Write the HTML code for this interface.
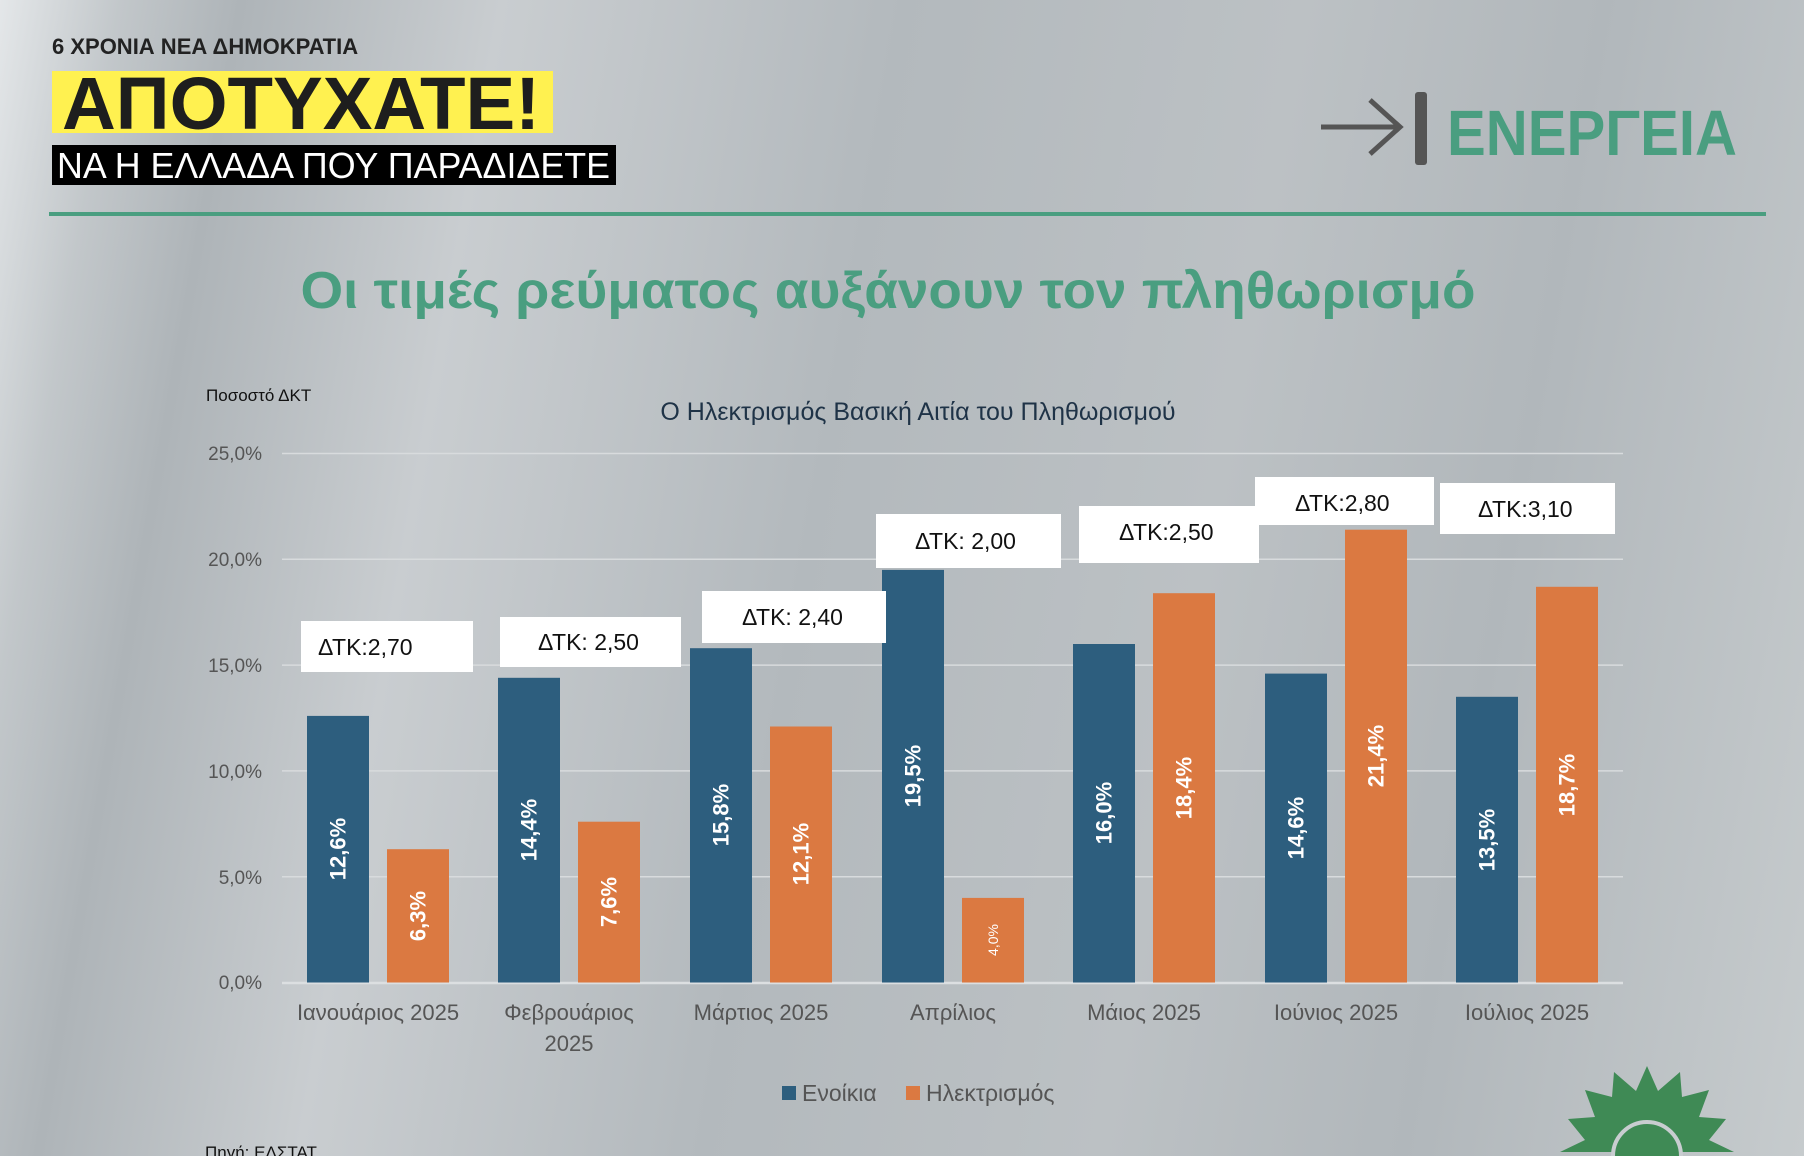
<!DOCTYPE html>
<html><head><meta charset="utf-8"><style>
html,body{margin:0;padding:0;}
body{width:1804px;height:1156px;overflow:hidden;font-family:"Liberation Sans",sans-serif;
background:linear-gradient(100deg,#e4e7e9 0%,#c2c7ca 6%,#aeb4b8 12%,#c9cdd0 25%,#b3b9bd 45%,#bcc1c4 65%,#b1b7bb 80%,#c6cbcd 100%);}
svg{position:absolute;left:0;top:0;}
</style></head><body>
<svg width="1804" height="1156" viewBox="0 0 1804 1156" xmlns="http://www.w3.org/2000/svg" font-family="Liberation Sans, sans-serif">
<!-- header -->
<text x="52" y="54" font-family="Liberation Sans Narrow, Liberation Sans, sans-serif" font-weight="bold" font-size="22" fill="#222">6 ΧΡΟΝΙΑ ΝΕΑ ΔΗΜΟΚΡΑΤΙΑ</text>
<rect x="52" y="71" width="501" height="62" fill="#fff150"/>
<text x="62" y="129" font-family="Liberation Sans Narrow, Liberation Sans, sans-serif" font-weight="bold" font-size="74" fill="#1e1e1e" textLength="478" lengthAdjust="spacingAndGlyphs">ΑΠΟΤΥΧΑΤΕ!</text>
<rect x="52" y="145" width="564" height="40" fill="#000"/>
<text x="57" y="178" font-family="Liberation Sans Narrow, Liberation Sans, sans-serif" font-size="36" fill="#fff" textLength="553" lengthAdjust="spacingAndGlyphs">ΝΑ Η ΕΛΛΑΔΑ ΠΟΥ ΠΑΡΑΔΙΔΕΤΕ</text>
<!-- right header -->
<line x1="1321" y1="127" x2="1398" y2="127" stroke="#555" stroke-width="5"/>
<polyline points="1370,100 1400,127 1370,154" fill="none" stroke="#555" stroke-width="5"/>
<rect x="1415" y="92" width="12" height="73" rx="3" fill="#555"/>
<text x="1447" y="155" font-weight="bold" font-size="64" fill="#4a9e80" textLength="290" lengthAdjust="spacingAndGlyphs">ΕΝΕΡΓΕΙΑ</text>
<rect x="49" y="212" width="1717" height="4" fill="#4a9e80"/>
<text x="888" y="308" text-anchor="middle" font-weight="bold" font-size="52" fill="#4a9e80" textLength="1175" lengthAdjust="spacingAndGlyphs">Οι τιμές ρεύματος αυξάνουν τον πληθωρισμό</text>
<!-- chart text -->
<text x="206" y="401" font-size="17" fill="#111">Ποσοστό ΔΚΤ</text>
<text x="918" y="420" text-anchor="middle" font-size="25" fill="#1f3347">Ο Ηλεκτρισμός Βασική Αιτία του Πληθωρισμού</text>
<!-- grid -->
<g stroke="#d8dbdd" stroke-width="1.5">
<line x1="282" y1="453.5" x2="1623" y2="453.5"/>
<line x1="282" y1="559.3" x2="1623" y2="559.3"/>
<line x1="282" y1="665.1" x2="1623" y2="665.1"/>
<line x1="282" y1="770.9" x2="1623" y2="770.9"/>
<line x1="282" y1="876.7" x2="1623" y2="876.7"/>
</g>
<line x1="282" y1="983" x2="1623" y2="983" stroke="#dcdfe1" stroke-width="2.5"/>
<g font-size="19" fill="#555" text-anchor="end">
<text x="262" y="460">25,0%</text>
<text x="262" y="566">20,0%</text>
<text x="262" y="672">15,0%</text>
<text x="262" y="778">10,0%</text>
<text x="262" y="884">5,0%</text>
<text x="262" y="989">0,0%</text>
</g>
<!-- bars: bottom 982.5, 21.16 px per % -->
<g fill="#2d5e7e">
<rect x="307" y="715.9" width="62" height="266.6"/>
<rect x="498" y="677.8" width="62" height="304.7"/>
<rect x="690" y="648.2" width="62" height="334.3"/>
<rect x="882" y="569.9" width="62" height="412.6"/>
<rect x="1073" y="644" width="62" height="338.5"/>
<rect x="1265" y="673.6" width="62" height="308.9"/>
<rect x="1456" y="696.8" width="62" height="285.7"/>
</g>
<g fill="#db7941">
<rect x="387" y="849.2" width="62" height="133.3"/>
<rect x="578" y="821.7" width="62" height="160.8"/>
<rect x="770" y="726.5" width="62" height="256"/>
<rect x="962" y="897.9" width="62" height="84.6"/>
<rect x="1153" y="593.2" width="62" height="389.3"/>
<rect x="1345" y="529.7" width="62" height="452.8"/>
<rect x="1536" y="586.8" width="62" height="395.7"/>
</g>
<g fill="#fff" font-weight="bold" font-size="22" text-anchor="middle" dominant-baseline="central">
<text transform="translate(338,849) rotate(-90)">12,6%</text>
<text transform="translate(418,916) rotate(-90)">6,3%</text>
<text transform="translate(529,830) rotate(-90)">14,4%</text>
<text transform="translate(609,902) rotate(-90)">7,6%</text>
<text transform="translate(721,815) rotate(-90)">15,8%</text>
<text transform="translate(801,854) rotate(-90)">12,1%</text>
<text transform="translate(913,776) rotate(-90)">19,5%</text>
<text transform="translate(993,940) rotate(-90)" font-weight="normal" font-size="14">4,0%</text>
<text transform="translate(1104,813) rotate(-90)">16,0%</text>
<text transform="translate(1184,788) rotate(-90)">18,4%</text>
<text transform="translate(1296,828) rotate(-90)">14,6%</text>
<text transform="translate(1376,756) rotate(-90)">21,4%</text>
<text transform="translate(1487,840) rotate(-90)">13,5%</text>
<text transform="translate(1567,785) rotate(-90)">18,7%</text>
</g>
<!-- ΔΤΚ boxes -->
<g fill="#fff">
<rect x="301" y="621" width="172" height="51"/>
<rect x="500" y="617" width="181" height="50"/>
<rect x="702" y="591" width="184" height="52"/>
<rect x="876" y="514" width="185" height="54"/>
<rect x="1079" y="506" width="180" height="57"/>
<rect x="1255" y="477" width="179" height="48"/>
<rect x="1440" y="483" width="175" height="51"/>
</g>
<g fill="#111" font-size="23">
<text x="318" y="655">ΔΤΚ:2,70</text>
<text x="538" y="650">ΔΤΚ: 2,50</text>
<text x="742" y="625">ΔΤΚ: 2,40</text>
<text x="915" y="549">ΔΤΚ: 2,00</text>
<text x="1119" y="540">ΔΤΚ:2,50</text>
<text x="1295" y="511">ΔΤΚ:2,80</text>
<text x="1478" y="517">ΔΤΚ:3,10</text>
</g>
<!-- categories -->
<g fill="#555" font-size="22" text-anchor="middle">
<text x="378" y="1020">Ιανουάριος 2025</text>
<text x="569" y="1020">Φεβρουάριος</text>
<text x="569" y="1051">2025</text>
<text x="761" y="1020">Μάρτιος 2025</text>
<text x="953" y="1020">Απρίλιος</text>
<text x="1144" y="1020">Μάιος 2025</text>
<text x="1336" y="1020">Ιούνιος 2025</text>
<text x="1527" y="1020">Ιούλιος 2025</text>
</g>
<!-- legend -->
<rect x="782" y="1086" width="14" height="14" fill="#2d5e7e"/>
<text x="802" y="1101" font-size="23" fill="#555">Ενοίκια</text>
<rect x="906" y="1086" width="14" height="14" fill="#db7941"/>
<text x="926" y="1101" font-size="23" fill="#555">Ηλεκτρισμός</text>
<text x="205" y="1158" font-size="17" fill="#111">Πηγή: ΕΛΣΤΑΤ</text>
<!-- sun logo -->
<g transform="translate(1647,1152)">
<polygon fill="#3f8a55" points="-87,0 -62,-12 -79,-33 -52,-35 -62,-62 -35,-55 -33,-80 -11,-61 0,-86 11,-61 33,-80 35,-55 62,-62 52,-35 79,-33 62,-12 87,0"/>
<path d="M-34,4 A34,34 0 0 1 34,4" fill="#3f8a55" stroke="#c8cdd0" stroke-width="4"/>
</g>
</svg>
</body></html>
